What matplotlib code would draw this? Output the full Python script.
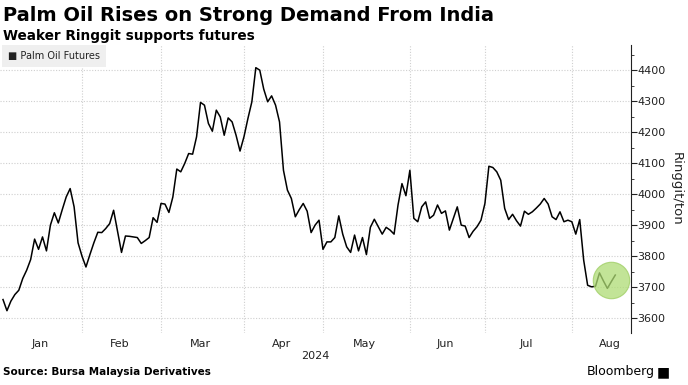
import numpy as np
import matplotlib
matplotlib.use("Agg")
import matplotlib.pyplot as plt
from matplotlib.ticker import MultipleLocator

# daily settlement, Ringgit/ton, one value per trading day (Jan 2 .. mid Aug 2024)
prices = [
    # Jan
    3660, 3624, 3655, 3676, 3690, 3728, 3755, 3789, 3855, 3822,
    3862, 3817, 3900, 3940, 3907, 3950, 3991, 4018, 3959, 3843,
    # Feb
    3800, 3765, 3805, 3843, 3877, 3876, 3889, 3905, 3948, 3880,
    3812, 3865, 3864, 3862, 3860, 3841, 3850, 3860, 3924, 3909,
    # Mar
    3970, 3968, 3941, 3991, 4081, 4072, 4099, 4131, 4129, 4185,
    4296, 4287, 4228, 4203, 4271, 4249, 4190, 4246, 4233, 4190, 4139,
    # Apr
    4185, 4244, 4298, 4408, 4400, 4339, 4298, 4317, 4287, 4233,
    4077, 4013, 3986, 3927, 3950, 3970, 3945, 3876, 3900, 3916,
    # May
    3822, 3846, 3846, 3860, 3930, 3871, 3830, 3812, 3868, 3817,
    3860, 3805, 3893, 3919, 3895, 3871, 3893, 3884, 3871, 3965,
    4034, 3995,
    # Jun
    4077, 3922, 3911, 3959, 3975, 3922, 3932, 3965, 3938, 3946,
    3884, 3922, 3959, 3900, 3897, 3860, 3880, 3895, 3916,
    # Jul
    3970, 4090, 4086, 4072, 4045, 3954, 3918, 3935, 3914, 3897,
    3945, 3935, 3943, 3955, 3968, 3986, 3968, 3927, 3918, 3943,
    3911, 3916,
    # Aug
    3911, 3871, 3918, 3787, 3706, 3701, 3703, 3746, 3720, 3696,
    3718, 3739,
]
month_labels = ["Jan", "Feb", "Mar", "Apr", "May", "Jun", "Jul", "Aug"]
month_start = [0, 20, 40, 61, 81, 103, 122, 144]   # first session of each month
month_end = month_start[1:] + [164]                 # Aug runs on past the data
year_label = "2024"

x = np.arange(len(prices))
y = np.array(prices)

fig = plt.figure(figsize=(6.88, 3.85), dpi=100)
ax = fig.add_axes([0.0, 0.135, 0.9167, 0.748])

grid_kw = dict(color="#cfcfcf", linewidth=0.8, linestyle=(0, (1, 1.5)), zorder=0)
for v in range(3600, 4401, 100):
    ax.axhline(v, **grid_kw)
for m in month_start[1:]:
    ax.axvline(m, **grid_kw)

ax.plot(x, y, color="black", linewidth=1.1, zorder=3)

# highlight the latest rebound
cx, cy = x[-4:].mean(), y[-4:].mean()
ax.scatter([cx + 0.5], [cy + 5], s=690, color="#aedc74", alpha=0.75,
           edgecolors="#9ccc60", linewidths=0.8, zorder=4)

ax.set_xlim(-0.76, 158.9)
ax.set_ylim(3552, 4481)

for s in ["top", "left", "bottom"]:
    ax.spines[s].set_visible(False)
ax.spines["right"].set_color("#222222")
ax.spines["right"].set_linewidth(0.8)

ax.yaxis.tick_right()
ax.yaxis.set_label_position("right")
ax.set_yticks(range(3600, 4401, 100))
ax.yaxis.set_minor_locator(MultipleLocator(50))
ax.tick_params(axis="y", which="major", length=4, width=0.8, color="#222222",
               labelsize=8, labelcolor="#222222", pad=1)
ax.tick_params(axis="y", which="minor", length=2, width=0.6, color="#222222")
ax.set_ylabel("Ringgit/ton", rotation=-90, labelpad=12, fontsize=9.5, color="#222222")

mid = [(a + b) / 2 - 0.5 for a, b in zip(month_start, month_end)]
ax.set_xticks(mid)
ax.set_xticklabels(month_labels)
ax.tick_params(axis="x", length=0, labelsize=8, labelcolor="#222222", pad=4)
ax.text(0.5, -0.064, year_label, transform=ax.transAxes, ha="center", va="top",
        fontsize=8, color="#222222")

fig.text(0.004, 0.985, "Palm Oil Rises on Strong Demand From India",
         fontsize=14, fontweight="bold", ha="left", va="top")
fig.text(0.004, 0.925, "Weaker Ringgit supports futures",
         fontsize=9.8, fontweight="bold", ha="left", va="top")
fig.text(0.012, 1 - 56 / 385, "\u25a0 Palm Oil Futures", fontsize=7, ha="left",
         va="center", color="#222222",
         bbox=dict(facecolor="#efefef", edgecolor="none", boxstyle="square,pad=0.6"))

fig.text(0.004, 1 - 372 / 385, "Source: Bursa Malaysia Derivatives",
         fontsize=7.5, fontweight="bold", ha="left", va="center")
fig.text(0.952, 1 - 372 / 385, "Bloomberg", fontsize=9, ha="right", va="center")
fig.text(0.964, 1 - 372 / 385, "\u25a0", fontsize=10, ha="center", va="center")

fig.savefig("out.png", dpi=100)
